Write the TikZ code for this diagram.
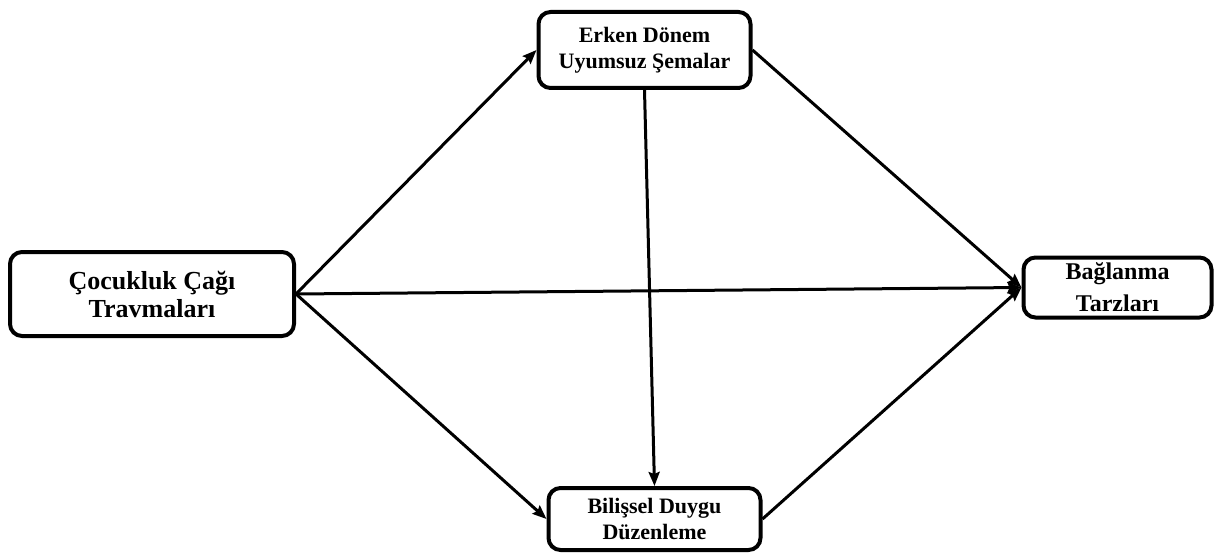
\documentclass[tikz,border=0pt]{standalone}
\usepackage{fontspec}
\setmainfont{Liberation Serif}
\usetikzlibrary{arrows.meta}

\begin{document}
\begin{tikzpicture}[x=0.5pt, y=-0.5pt,
  box/.style = {draw, line width=2pt, rounded corners=6pt, align=center, inner sep=0pt, font=\bfseries},
  arrow/.style = {line width=1.5pt, -{Stealth[length=7pt, width=5.5pt, inset=1pt]}}]
\useasboundingbox (0,0) rectangle (1216,556);

\node[box, minimum width=142pt, minimum height=42pt, font=\bfseries\fontsize{13}{14}\selectfont] (CT) at (152,294) {Çocukluk Çağı\\Travmaları};
\node[box, minimum width=106pt, minimum height=38pt, font=\bfseries\fontsize{11}{13}\selectfont] (EU) at (644.5,50) {Erken Dönem\\Uyumsuz Şemalar};
\node[box, minimum width=106pt, minimum height=31pt, font=\bfseries\fontsize{11}{13}\selectfont] (BD) at (654.5,519) {Bilişsel Duygu\\Düzenleme};
\node[box, minimum width=94pt, minimum height=30pt, font=\bfseries\fontsize{12}{16}\selectfont] (BT) at (1117.5,287.5) {Bağlanma\\Tarzları};

\draw[arrow] (CT.east) -- (EU.west);
\draw[arrow] (CT.east) -- (BD.west);
\draw[arrow] (CT.east) -- (BT.west);
\draw[arrow] (EU.south) -- (BD.north);
\draw[arrow] (EU.east) -- (BT.west);
\draw[arrow] (BD.east) -- (BT.west);
\end{tikzpicture}
\end{document}
